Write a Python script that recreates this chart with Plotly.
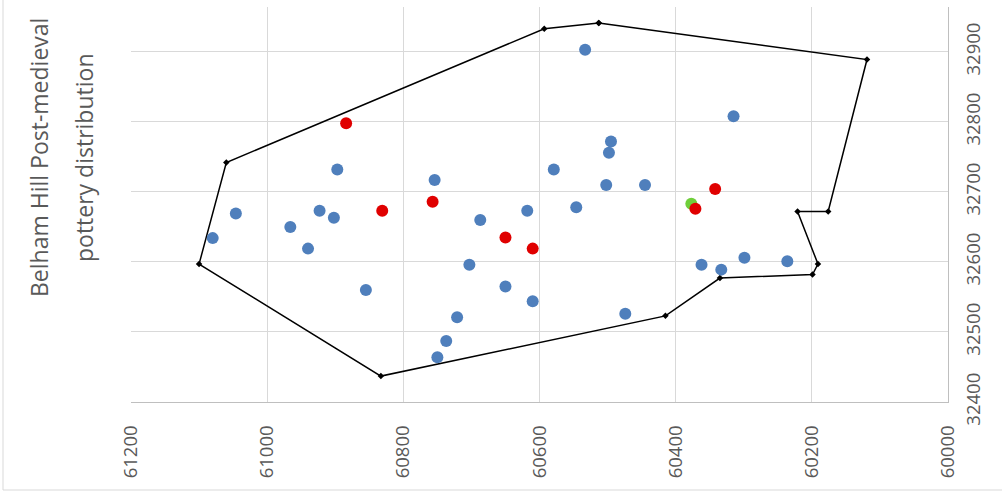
import plotly.graph_objects as go

# ---- data (easting, northing) ----
hull_x = [60513, 60119, 60176, 60221, 60191, 60199, 60335, 60415, 60833, 61100, 61060, 60593, 60513]
hull_y = [32941, 32889, 32672, 32672, 32597, 32582, 32577, 32523, 32437, 32597, 32742, 32933, 32941]

blue_x = [60897, 61046, 60923, 60902, 60966, 61080, 60940, 60855, 60754, 60579,
          60618, 60546, 60687, 60703, 60650, 60610, 60721, 60737, 60750, 60533,
          60495, 60498, 60502, 60445, 60315, 60362, 60333, 60299, 60236, 60474]
blue_y = [32732, 32669, 32673, 32663, 32650, 32634, 32619, 32560, 32717, 32732,
          32673, 32678, 32660, 32596, 32565, 32544, 32521, 32487, 32464, 32903,
          32772, 32756, 32710, 32710, 32808, 32596, 32589, 32606, 32601, 32526]

red_x = [60884, 60831, 60757, 60650, 60610, 60342, 60371]
red_y = [32798, 32673, 32686, 32635, 32619, 32704, 32676]

green_x = [60377]
green_y = [32683]

x_ticks = [61200, 61000, 60800, 60600, 60400, 60200, 60000]
y_ticks = [32400, 32500, 32600, 32700, 32800, 32900]

title_lines = ["Belham Hill Post-medieval", "pottery distribution"]

# ---- figure ----
W, H = 1002, 492
ML, MR, MT, MB = 131, 54, 7, 90
TXT = "#595959"
GRID = "#d9d9d9"
pw, ph = W - ML - MR, H - MT - MB

fig = go.Figure()
fig.add_trace(go.Scatter(x=hull_x, y=hull_y, mode="lines+markers",
                         line=dict(color="black", width=1.5),
                         marker=dict(color="black", size=5, symbol="diamond"),
                         hoverinfo="skip", showlegend=False))
fig.add_trace(go.Scatter(x=blue_x, y=blue_y, mode="markers",
                         marker=dict(color="#4f7fbc", size=12), showlegend=False))
fig.add_trace(go.Scatter(x=green_x, y=green_y, mode="markers",
                         marker=dict(color="#6fcf3a", size=12), showlegend=False))
fig.add_trace(go.Scatter(x=red_x, y=red_y, mode="markers",
                         marker=dict(color="#e00000", size=12), showlegend=False))

fig.update_layout(
    width=W, height=H,
    margin=dict(l=ML, r=MR, t=MT, b=MB, pad=0, autoexpand=False),
    paper_bgcolor="white", plot_bgcolor="white",
    font=dict(family="Open Sans, Liberation Sans, sans-serif", color=TXT),
    xaxis=dict(range=[61200, 60000], tickvals=x_ticks,
               ticktext=[str(v) for v in x_ticks], automargin=False,
               tickangle=-90, showgrid=True, gridcolor=GRID, gridwidth=1,
               showline=True, linecolor="#bfbfbf", linewidth=1,
               zeroline=False, ticks="", ticklabelstandoff=15,
               tickfont=dict(size=18.5, color=TXT)),
    yaxis=dict(range=[32400, 32964], tickvals=y_ticks,
               ticktext=[str(v) for v in y_ticks], automargin=False,
               side="right", tickangle=-90, showgrid=True, gridcolor=GRID,
               gridwidth=1, showline=True, linecolor="#bfbfbf", linewidth=1,
               zeroline=False, ticks="", ticklabelstandoff=9,
               tickfont=dict(size=18.5, color=TXT)),
    showlegend=False,
    hovermode=False,
)

# title (rotated, left side), one annotation per line
for line, cx in zip(title_lines, [39, 84]):
    fig.add_annotation(text=line, xref="paper", yref="paper",
                       x=(cx - ML) / pw, y=(H - MB - 158) / ph,
                       xanchor="center", yanchor="middle", textangle=-90,
                       showarrow=False,
                       font=dict(size=23, color=TXT, family="Open Sans, sans-serif"))

# chart border (left and bottom edges visible)
bx0 = (3 - ML) / pw
by0 = (H - MB - 490) / ph
fig.add_shape(type="line", xref="paper", yref="paper", x0=bx0, x1=bx0,
              y0=by0, y1=(H - MB) / ph, line=dict(color=GRID, width=1))
fig.add_shape(type="line", xref="paper", yref="paper", x0=bx0, x1=(W - ML) / pw,
              y0=by0, y1=by0, line=dict(color=GRID, width=1))

fig.write_html("out.html", config={"displayModeBar": False},
               post_script="document.body.style.margin='0';document.body.style.overflow='hidden';")
